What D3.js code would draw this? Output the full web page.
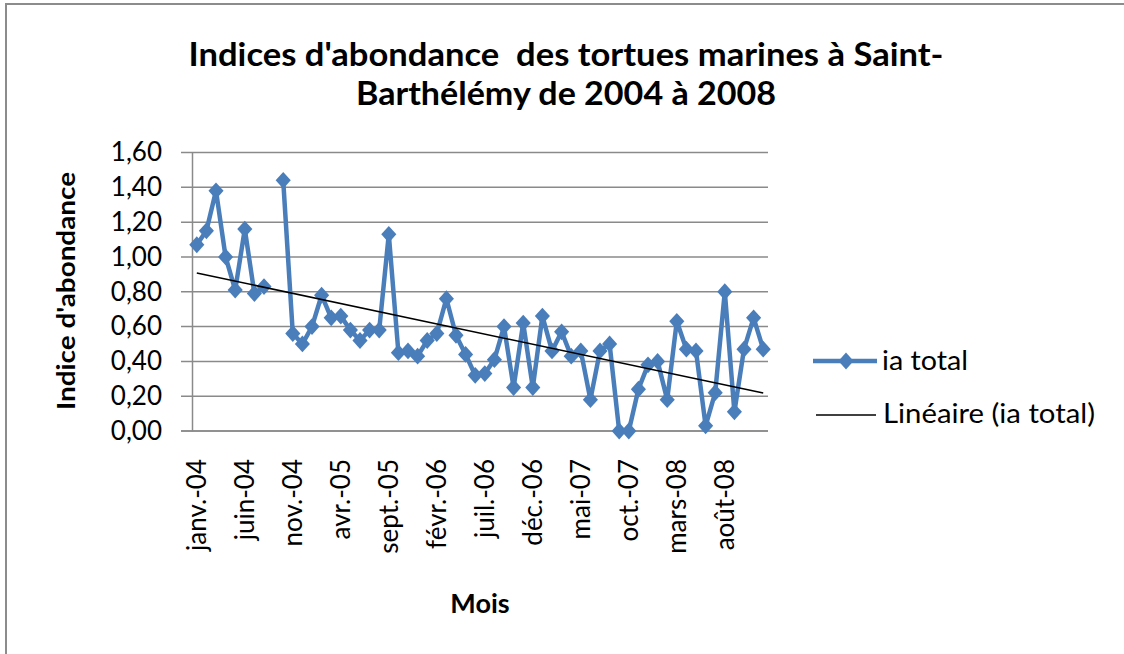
<!DOCTYPE html>
<html>
<head>
<meta charset="utf-8">
<script src="https://cdn.jsdelivr.net/npm/d3@7"></script>
<style>
  html, body { margin: 0; padding: 0; background: #fff; }
  svg { display: block; }
  text { font-family: Lato, "Open Sans", sans-serif; fill: #000; }
</style>
</head>
<body>
<svg id="chart" width="1124" height="654"></svg>
<script>
// Mois de janvier 2004 à décembre 2008
const months = [
  "janv.-04","févr.-04","mars-04","avr.-04","mai-04","juin-04","juil.-04","août-04","sept.-04","oct.-04","nov.-04","déc.-04",
  "janv.-05","févr.-05","mars-05","avr.-05","mai-05","juin-05","juil.-05","août-05","sept.-05","oct.-05","nov.-05","déc.-05",
  "janv.-06","févr.-06","mars-06","avr.-06","mai-06","juin-06","juil.-06","août-06","sept.-06","oct.-06","nov.-06","déc.-06",
  "janv.-07","févr.-07","mars-07","avr.-07","mai-07","juin-07","juil.-07","août-07","sept.-07","oct.-07","nov.-07","déc.-07",
  "janv.-08","févr.-08","mars-08","avr.-08","mai-08","juin-08","juil.-08","août-08","sept.-08","oct.-08","nov.-08","déc.-08"
];

// Indice d'abondance total (null = mois sans relevé)
const iaTotal = [
  1.07, 1.15, 1.38, 1.00, 0.81, 1.16, 0.79, 0.83, null, 1.44, 0.56, 0.50,
  0.60, 0.78, 0.65, 0.66, 0.58, 0.52, 0.58, 0.58, 1.13, 0.45, 0.46, 0.43,
  0.52, 0.56, 0.76, 0.55, 0.44, 0.32, 0.33, 0.41, 0.60, 0.25, 0.62, 0.25,
  0.66, 0.46, 0.57, 0.43, 0.46, 0.18, 0.46, 0.50, 0.00, 0.00, 0.24, 0.38,
  0.40, 0.18, 0.63, 0.47, 0.46, 0.03, 0.22, 0.80, 0.11, 0.47, 0.65, 0.47
];

const yTicks = [0, 0.2, 0.4, 0.6, 0.8, 1.0, 1.2, 1.4, 1.6];
const titleLines = ["Indices d'abondance  des tortues marines à Saint-", "Barthélémy de 2004 à 2008"];
const seriesName = "ia total";
const trendName = "Linéaire (ia total)";

const svg = d3.select("#chart");
const blue = "#4a7ebb";
const grid = "#8a8a8a";

const plot = { left: 192, right: 768, top: 152.5, bottom: 431 };

// Cadre de la zone de graphique
svg.append("rect")
  .attr("x", 6).attr("y", 4)
  .attr("width", 1140).attr("height", 680)
  .attr("fill", "#fff")
  .attr("stroke", "#8c8c8c").attr("stroke-width", 2);

const x = d3.scaleBand()
  .domain(d3.range(months.length))
  .range([plot.left, plot.right]);
const cx = i => x(i) + x.bandwidth() / 2;

const y = d3.scaleLinear().domain([0, 1.6]).range([plot.bottom, plot.top]);

// Quadrillage horizontal
svg.append("g")
  .selectAll("line")
  .data(yTicks)
  .join("line")
  .attr("x1", plot.left - 11).attr("x2", plot.right)
  .attr("y1", d => y(d)).attr("y2", d => y(d))
  .attr("stroke", grid).attr("stroke-width", 1.5);

// Axe vertical
const yAxis = d3.axisLeft(y)
  .tickValues(yTicks)
  .tickSize(0)
  .tickPadding(30)
  .tickFormat(d => d3.format(".2f")(d).replace(".", ","));
const gy = svg.append("g")
  .attr("transform", `translate(${plot.left},0)`)
  .call(yAxis);
gy.select(".domain").attr("stroke", grid).attr("stroke-width", 1.5);
gy.selectAll("text")
  .style("font-family", "Lato, 'Open Sans', sans-serif")
  .attr("font-size", 26)
  .attr("fill", "#000");

// Axe horizontal (une étiquette tous les 5 mois)
const xAxis = d3.axisBottom(x)
  .tickValues(d3.range(0, months.length, 5))
  .tickSize(0)
  .tickPadding(0)
  .tickFormat(i => months[i]);
const gx = svg.append("g")
  .attr("transform", `translate(0,${plot.bottom})`)
  .call(xAxis);
gx.select(".domain").remove();
gx.selectAll("text")
  .style("font-family", "Lato, 'Open Sans', sans-serif")
  .attr("font-size", 26)
  .attr("fill", "#000")
  .attr("text-anchor", "end")
  .attr("transform", "rotate(-90)")
  .attr("x", -28)
  .attr("y", 0)
  .attr("dy", "0.35em");
svg.append("line")
  .attr("x1", plot.left - 11).attr("x2", plot.right)
  .attr("y1", plot.bottom).attr("y2", plot.bottom)
  .attr("stroke", grid).attr("stroke-width", 1.5);

// Série
const pts = iaTotal.map((v, i) => ({ i, v }));
const line = d3.line()
  .defined(d => d.v != null)
  .x(d => cx(d.i))
  .y(d => y(d.v));
svg.append("path")
  .datum(pts)
  .attr("d", line)
  .attr("fill", "none")
  .attr("stroke", blue)
  .attr("stroke-width", 4.5)
  .attr("stroke-linejoin", "round");

const diamond = d3.symbol().type(d3.symbolDiamond2).size(180);
svg.append("g")
  .selectAll("path")
  .data(pts.filter(d => d.v != null))
  .join("path")
  .attr("d", diamond)
  .attr("transform", d => `translate(${cx(d.i)},${y(d.v)}) scale(0.9,1)`)
  .attr("fill", blue);

// Tendance linéaire (moindres carrés, x = rang du mois)
const valid = pts.filter(d => d.v != null);
const mx = d3.mean(valid, d => d.i + 1);
const my = d3.mean(valid, d => d.v);
const slope = d3.sum(valid, d => (d.i + 1 - mx) * (d.v - my)) / d3.sum(valid, d => (d.i + 1 - mx) ** 2);
const intercept = my - slope * mx;
const trend = [0, months.length - 1].map(i => ({ i, v: intercept + slope * (i + 1) }));
svg.append("path")
  .datum(trend)
  .attr("d", d3.line().x(d => cx(d.i)).y(d => y(d.v)))
  .attr("stroke", "#000")
  .attr("stroke-width", 1.5)
  .attr("fill", "none");

// Titre
svg.append("g")
  .selectAll("text")
  .data(titleLines)
  .join("text")
  .attr("x", 566)
  .attr("y", (d, i) => 66 + i * 39)
  .attr("text-anchor", "middle")
  .attr("font-size", 32)
  .attr("font-weight", "bold")
  .style("white-space", "pre")
  .attr("textLength", (d, i) => i === 0 ? 755 : 420)
  .attr("lengthAdjust", "spacingAndGlyphs")
  .text(d => d);

// Titres des axes
svg.append("text")
  .attr("transform", "translate(75,291) rotate(-90)")
  .attr("text-anchor", "middle")
  .attr("font-size", 25)
  .attr("font-weight", "bold")
  .attr("textLength", 238)
  .attr("lengthAdjust", "spacingAndGlyphs")
  .text("Indice d'abondance");

svg.append("text")
  .attr("x", (plot.left + plot.right) / 2).attr("y", 613)
  .attr("text-anchor", "middle")
  .attr("font-size", 27)
  .attr("font-weight", "bold")
  .text("Mois");

// Légende
const lg = svg.append("g");
lg.append("line")
  .attr("x1", 813).attr("x2", 877).attr("y1", 361).attr("y2", 361)
  .attr("stroke", blue).attr("stroke-width", 4.5);
lg.append("path")
  .attr("d", diamond)
  .attr("transform", "translate(846,361) scale(0.9,1)")
  .attr("fill", blue);
lg.append("text")
  .attr("x", 882).attr("y", 370)
  .attr("font-size", 26)
  .attr("textLength", 86)
  .attr("lengthAdjust", "spacingAndGlyphs")
  .text(seriesName);
lg.append("line")
  .attr("x1", 816).attr("x2", 876).attr("y1", 415).attr("y2", 415)
  .attr("stroke", "#000").attr("stroke-width", 1.5);
lg.append("text")
  .attr("x", 883).attr("y", 423)
  .attr("font-size", 26)
  .attr("textLength", 212)
  .attr("lengthAdjust", "spacingAndGlyphs")
  .text(trendName);
</script>
</body>
</html>
